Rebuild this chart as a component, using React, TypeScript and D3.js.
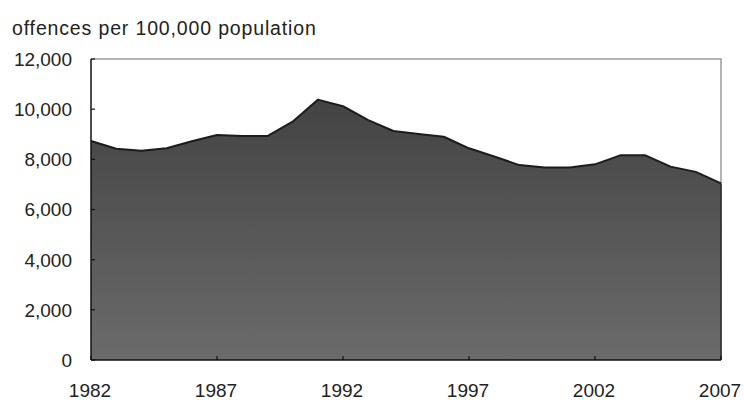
import React from "react";
import * as d3 from "d3";

const years = [1982, 1983, 1984, 1985, 1986, 1987, 1988, 1989, 1990, 1991, 1992, 1993, 1994,
  1995, 1996, 1997, 1998, 1999, 2000, 2001, 2002, 2003, 2004, 2005, 2006, 2007];
const offences = [8730, 8420, 8340, 8440, 8720, 8970, 8930, 8930, 9500, 10380, 10120, 9560, 9130,
  9010, 8900, 8440, 8110, 7770, 7670, 7670, 7800, 8160, 8160, 7710, 7500, 7040];
const xTicks = [1982, 1987, 1992, 1997, 2002, 2007];
const yTicks = [0, 2000, 4000, 6000, 8000, 10000, 12000];
const title = "offences per 100,000 population";

const W = 744, H = 400;
const M = { left: 91, right: 721, top: 59, bottom: 360 };
const FONT = "Liberation Sans, Arial, sans-serif";

export default function App() {
  const x = d3.scaleLinear().domain([1982, 2007]).range([M.left, M.right]);
  const y = d3.scaleLinear().domain([0, 12000]).range([M.bottom, M.top]);
  const data = years.map((yr, i) => ({ yr, v: offences[i] }));
  const area = d3.area<{ yr: number; v: number }>()
    .x(d => x(d.yr)).y0(y(0)).y1(d => y(d.v));
  const line = d3.line<{ yr: number; v: number }>()
    .x(d => x(d.yr)).y(d => y(d.v));
  const fmt = d3.format(",");

  return (
    <svg width={W} height={H} style={{ position: "absolute", left: 0, top: 0, background: "#fff" }}
      fontFamily={FONT}>
      <defs>
        <linearGradient id="fillGrad" x1="0" y1={y(10400)} x2="0" y2={y(0)} gradientUnits="userSpaceOnUse">
          <stop offset="0" stopColor="#434343" />
          <stop offset="1" stopColor="#6b6b6b" />
        </linearGradient>
      </defs>
      <text x={12} y={35} fontSize={19.5} letterSpacing={0.85} fill="#222">{title}</text>
      {/* frame top/right */}
      <path d={`M${M.left},${M.top}H${M.right}V${M.bottom}`} fill="none" stroke="#9a9a9a" strokeWidth={1.5} />
      <path d={area(data) || ""} fill="url(#fillGrad)" />
      <path d={line(data) || ""} fill="none" stroke="#1c1c1c" strokeWidth={2} strokeLinejoin="round" />
      <line x1={M.right} x2={M.right} y1={y(offences[offences.length - 1])} y2={M.bottom} stroke="#2a2a2a" strokeWidth={1.5} />
      {/* axes */}
      <line x1={M.left} x2={M.left} y1={M.top} y2={M.bottom} stroke="#111" strokeWidth={1.5} />
      <line x1={M.left} x2={M.right} y1={M.bottom} y2={M.bottom} stroke="#111" strokeWidth={1.5} />
      {yTicks.map(t => (
        <g key={t}>
          <line x1={M.left} x2={M.left + 4} y1={y(t)} y2={y(t)} stroke="#111" strokeWidth={1.2} />
          <text x={72} y={y(t)} dy="0.36em" textAnchor="end" fontSize={19} fill="#222">{fmt(t)}</text>
        </g>
      ))}
      {xTicks.map(t => (
        <g key={t}>
          <line x1={x(t)} x2={x(t)} y1={M.bottom} y2={M.bottom - 4} stroke="#111" strokeWidth={1.2} />
          <text x={x(t) - 1} y={397} textAnchor="middle" fontSize={19} fill="#222">{t}</text>
        </g>
      ))}
    </svg>
  );
}
